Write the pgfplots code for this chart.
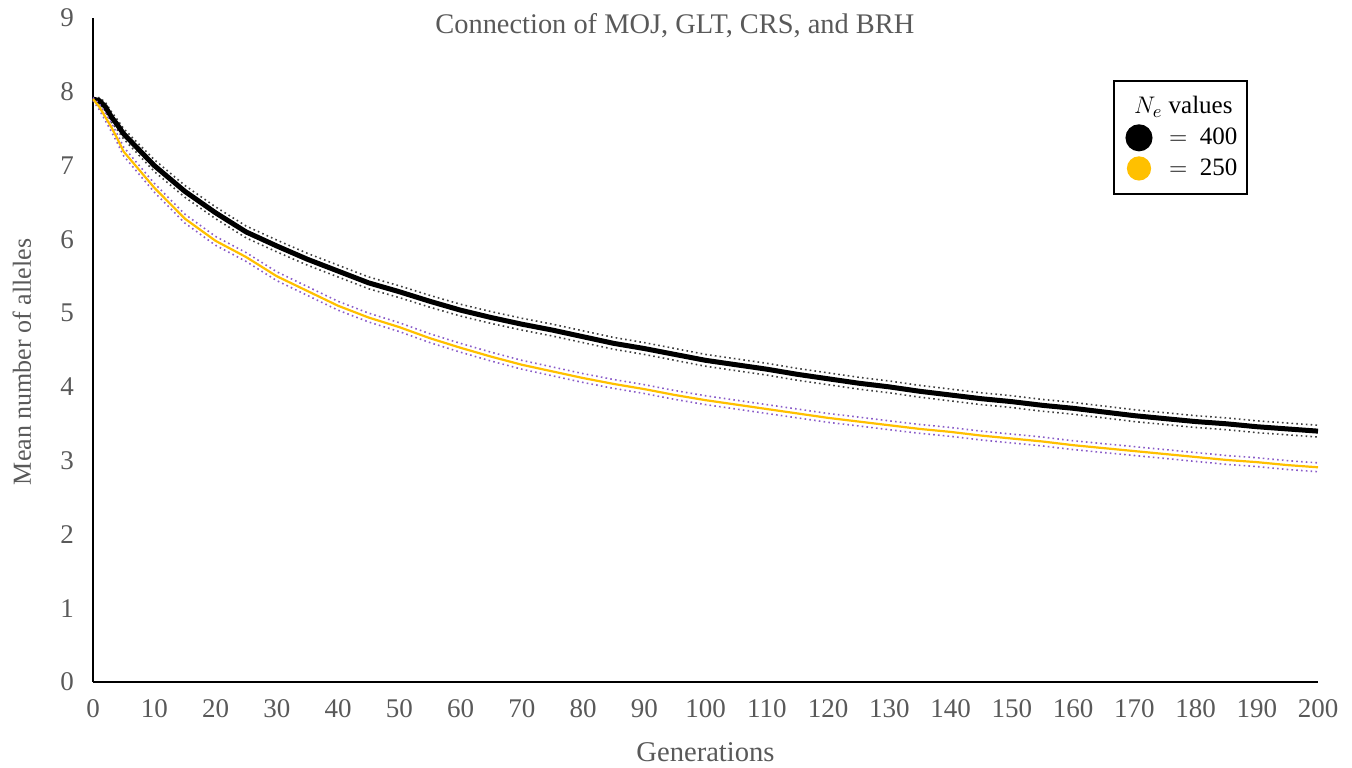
\documentclass[border=0pt]{standalone}
\usepackage{fontspec}
\setmainfont{Liberation Serif}
\usepackage{pgfplots}
\pgfplotsset{compat=1.18}
\usepackage{pgfplotstable}
\usetikzlibrary{calc}
\definecolor{tickgray}{HTML}{595959}
\definecolor{gold}{HTML}{FFC000}
\definecolor{bandpurple}{HTML}{8A5CC8}
\definecolor{bandgray}{HTML}{404040}

% x = generation, m = mean, lo/hi = dotted bounds
\pgfplotstableread{
x m lo hi
0 7.90 7.88 7.92
1 7.88 7.84 7.92
2 7.80 7.74 7.86
3 7.66 7.59 7.73
4 7.55 7.48 7.62
5 7.43 7.36 7.50
10 7.00 6.92 7.08
15 6.65 6.57 6.73
20 6.36 6.28 6.44
25 6.10 6.02 6.18
30 5.91 5.83 5.99
35 5.73 5.65 5.81
40 5.57 5.49 5.65
45 5.41 5.33 5.49
50 5.29 5.21 5.37
55 5.16 5.08 5.24
60 5.04 4.96 5.12
65 4.94 4.86 5.02
70 4.85 4.77 4.93
75 4.77 4.69 4.85
80 4.68 4.60 4.76
85 4.59 4.51 4.67
90 4.52 4.44 4.60
95 4.44 4.36 4.52
100 4.36 4.28 4.44
105 4.30 4.22 4.38
110 4.24 4.16 4.32
115 4.17 4.09 4.25
120 4.11 4.03 4.19
125 4.05 3.97 4.13
130 4.00 3.92 4.08
135 3.94 3.86 4.02
140 3.89 3.81 3.97
145 3.84 3.76 3.92
150 3.80 3.72 3.88
155 3.75 3.67 3.83
160 3.71 3.63 3.79
165 3.66 3.58 3.74
170 3.61 3.53 3.69
175 3.57 3.49 3.65
180 3.53 3.45 3.61
185 3.50 3.42 3.58
190 3.46 3.38 3.54
195 3.43 3.35 3.51
200 3.40 3.32 3.48
}\nfour

\pgfplotstableread{
x m lo hi
0 7.90 7.88 7.92
1 7.80 7.76 7.84
2 7.66 7.61 7.71
3 7.52 7.46 7.58
4 7.36 7.30 7.42
5 7.19 7.13 7.25
10 6.70 6.64 6.76
15 6.28 6.22 6.34
20 5.98 5.92 6.04
25 5.76 5.70 5.82
30 5.50 5.44 5.56
35 5.30 5.24 5.36
40 5.10 5.04 5.16
45 4.94 4.88 5.00
50 4.81 4.75 4.87
55 4.66 4.60 4.72
60 4.53 4.47 4.59
65 4.41 4.35 4.47
70 4.30 4.24 4.36
75 4.21 4.15 4.27
80 4.12 4.06 4.18
85 4.04 3.98 4.10
90 3.97 3.91 4.03
95 3.89 3.83 3.95
100 3.82 3.76 3.88
105 3.76 3.70 3.82
110 3.70 3.64 3.76
115 3.64 3.58 3.70
120 3.58 3.52 3.64
125 3.53 3.47 3.59
130 3.48 3.42 3.54
135 3.43 3.37 3.49
140 3.39 3.33 3.45
145 3.34 3.28 3.40
150 3.30 3.24 3.36
155 3.26 3.20 3.32
160 3.21 3.15 3.27
165 3.17 3.11 3.23
170 3.13 3.07 3.19
175 3.09 3.03 3.15
180 3.05 2.99 3.11
185 3.01 2.95 3.07
190 2.98 2.92 3.04
195 2.94 2.88 3.00
200 2.91 2.85 2.97
}\ntwofifty

\begin{document}
\begin{tikzpicture}
\begin{axis}[
    scale only axis,
    width=612.5pt, height=332pt,
    xmin=0, xmax=200, ymin=0, ymax=9,
    xtick distance=10, ytick distance=1,
    axis lines=left,
    axis line style={black, line width=0.8pt, -},
    major tick length=0pt,
    clip=false,
    /pgf/number format/assume math mode=true,
    ticklabel style={font=\fontsize{13.5}{14}\selectfont, text=tickgray},
    xticklabel shift=5pt,
    yticklabel shift=6pt,
    xlabel={Generations},
    ylabel={Mean number of alleles},
    xlabel style={font=\fontsize{14.3}{15}\selectfont, text=tickgray,
        at={(axis description cs:0.5,-0.105)}, anchor=center},
    ylabel style={font=\fontsize{13}{14}\selectfont, text=tickgray,
        at={(axis description cs:-0.058,0.482)}, anchor=center},
    legend style={at={(0.943,0.907)}, anchor=north east,
        draw=black, line width=0.9pt, font=\fontsize{12.5}{14}\selectfont,
        inner xsep=3pt, inner ysep=6pt, row sep=1.5pt},
    legend cell align=left,
]
\addlegendimage{empty legend}
\addlegendentry{\hspace{-0.9em}$N_e$ values\rule[-5pt]{0pt}{5pt}}

\addplot[bandgray, dash pattern=on 0.8pt off 1.6pt, line width=0.8pt, forget plot] table[x=x, y=lo] {\nfour};
\addplot[bandgray, dash pattern=on 0.8pt off 1.6pt, line width=0.8pt, forget plot] table[x=x, y=hi] {\nfour};
\addplot[black, line width=2.5pt,
    legend image code/.code={\fill[black] (0.33cm,0) circle (5.5pt);}]
    table[x=x, y=m] {\nfour};
\addlegendentry{\ \ $=$\ \ 400}

\addplot[bandpurple, dash pattern=on 0.8pt off 1.6pt, line width=0.8pt, forget plot] table[x=x, y=lo] {\ntwofifty};
\addplot[bandpurple, dash pattern=on 0.8pt off 1.6pt, line width=0.8pt, forget plot] table[x=x, y=hi] {\ntwofifty};
\addplot[gold, line width=1.1pt,
    legend image code/.code={\fill[gold] (0.33cm,0) circle (5.5pt);}]
    table[x=x, y=m] {\ntwofifty};
\addlegendentry{\ \ $=$\ \ 250}

\node[font=\fontsize{14.2}{15}\selectfont, text=tickgray, anchor=center]
    at (axis description cs:0.475,0.989) {Connection of MOJ, GLT, CRS, and BRH};
\end{axis}
\pgfresetboundingbox
\path[use as bounding box] ($(current axis.south west)+(-46.5pt,-43pt)$)
    rectangle ($(current axis.north east)+(17pt,9pt)$);
\end{tikzpicture}
\end{document}
